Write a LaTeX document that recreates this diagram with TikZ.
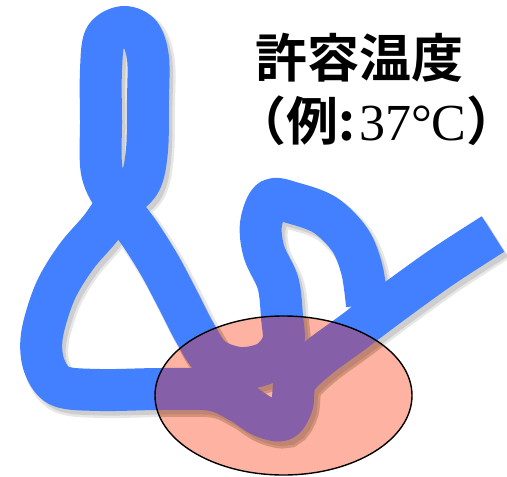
\documentclass[tikz,border=0pt]{standalone}
\usepackage{fontspec}
\usepackage{tikz}
\usetikzlibrary{positioning}
\newfontfamily\jpfont[BoldFont={Noto Sans CJK JP Bold}]{Noto Sans CJK JP}
\newfontfamily\latinserif{Liberation Serif}
\definecolor{ChainBlue}{RGB}{66,128,255}
\definecolor{HeatPink}{RGB}{253,178,162}
\definecolor{ChainPurple}{RGB}{133,96,168}
% the folded chain, one stroke from the loose tail round to the arch
\newcommand{\chaincurve}{plot[smooth,tension=0.55] coordinates {
  (493,234) (442,267) (392,303) (352,333) (318,358) (296,380) (292,405)
  (282,420) (262,416) (240,402) (212,390) (160,389) (100,390) (60,386)
  (44,365) (42,335) (55,292) (76,257) (100,229) (118,204) (140,182)
  (147,150) (148,100) (148,58) (140,34) (123,27) (105,38) (101,70)
  (101,120) (102,172) (118,204) (140,234) (160,266) (178,300) (195,333)
  (212,358) (240,368) (268,362) (283,343) (282,317) (278,283) (264,252)
  (261,224) (271,200) (293,203) (325,215) (350,240) (362,270) (367,305)}}

\begin{document}
\begin{tikzpicture}[x=1pt,y=-1pt,line join=round]
  \useasboundingbox (0,0) rectangle (507,477);
  % soft shadow under the chain
  \begin{scope}[transparency group,opacity=0.35,shift={(4,5)}]
    \draw[gray!55,line width=46pt] \chaincurve;
    \draw[gray!90!black,line width=41pt] \chaincurve;
  \end{scope}
  \draw[ChainBlue,line width=42pt] \chaincurve;
  % warm region
  \fill[HeatPink] (283.5,395.5) ellipse[x radius=128.5,y radius=79.5];
  \begin{scope}
    \clip (283.5,395.5) ellipse[x radius=128.5,y radius=79.5];
    \begin{scope}[transparency group,opacity=0.35,shift={(4,5)}]
      \draw[brown!70!black,line width=46pt] \chaincurve;
      \draw[brown!40!black,line width=41pt] \chaincurve;
    \end{scope}
    \draw[ChainPurple,line width=42pt] \chaincurve;
  \end{scope}
  \draw[black,line width=1.4pt] (283.5,395.5) ellipse[x radius=128.5,y radius=79.5];
  \node[anchor=base west,inner sep=0pt] (title) at (255,77)
    {\fontsize{52}{60}\selectfont\jpfont\bfseries 許容温度};
  \node[anchor=base west,inner sep=0pt] (example) at (234,140)
    {\fontsize{52}{60}\selectfont\jpfont\bfseries （例:\kern4pt\mdseries\latinserif 37°C\jpfont\bfseries\makebox[0.4em][l]{）}};
\end{tikzpicture}
\end{document}
